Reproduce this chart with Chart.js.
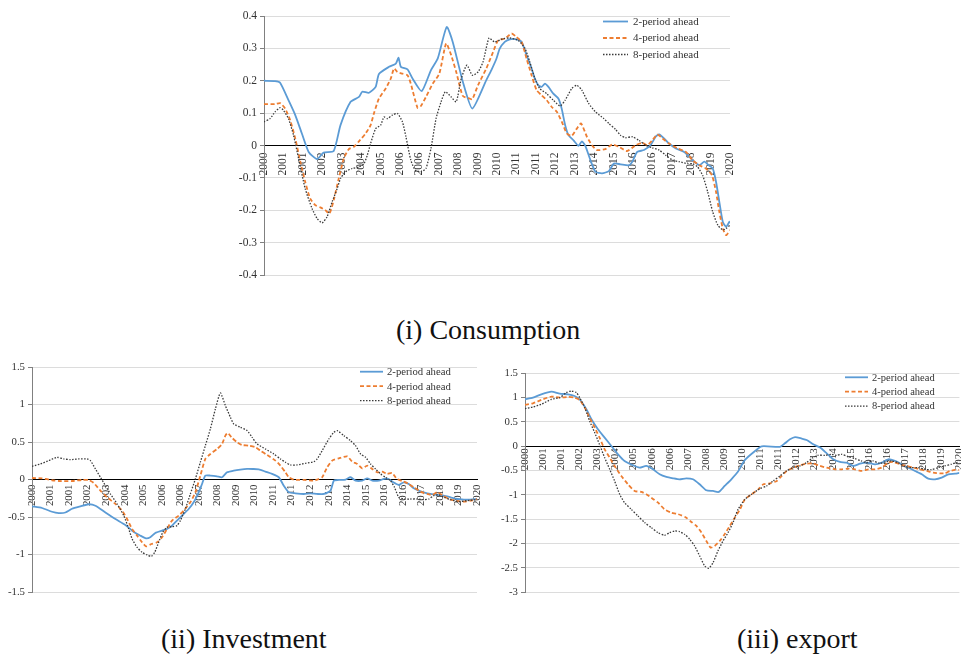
<!DOCTYPE html>
<html>
<head>
<meta charset="utf-8">
<title>Forecast paths: consumption, investment, export</title>
<script src="https://cdn.jsdelivr.net/npm/chart.js@4.4.1/dist/chart.umd.min.js"></script>
<style>
  html, body { margin: 0; padding: 0; background: #fff; }
  #page { position: relative; width: 961px; height: 656px; overflow: hidden; background: #fff; }
  #page canvas { position: absolute; }
  .title {
    position: absolute; white-space: nowrap; color: #111;
    font-family: "Liberation Serif", "DejaVu Serif", "Times New Roman", serif;
    font-size: 28px; line-height: 28px;
  }
</style>
</head>
<body>
<div id="page">
  <canvas id="cCons" width="520" height="300" style="left:220px;top:0px"></canvas>
  <canvas id="cInv" width="490" height="245" style="left:0px;top:355px"></canvas>
  <canvas id="cExp" width="481" height="245" style="left:480px;top:355px"></canvas>
  <div class="title" style="left:396px;top:316px">(i) Consumption</div>
  <div class="title" style="left:161px;top:625px">(ii) Investment</div>
  <div class="title" style="left:737px;top:625px">(iii) export</div>
</div>
<script>
// Category labels along the time axis (index 0..24)
const yearLabels = ['2000','2001','2001','2002','2003','2004','2005','2006','2006','2007','2008','2009',
  '2010','2011','2011','2012','2013','2014','2015','2016','2016','2017','2018','2019','2020'];

const seriesNames = ['2-period ahead', '4-period ahead', '8-period ahead'];

// Each series: [time index, value]
const consumption2 = [[0,0.200],[0.57,0.199],[0.83,0.194],[1.26,0.140],[1.61,0.094],[1.95,0.037],[2.30,-0.020],[2.73,-0.042],[3.07,-0.022],[3.59,-0.017],[3.94,0.063],[4.46,0.135],[4.89,0.150],[5.06,0.166],[5.41,0.163],[5.75,0.181],[5.92,0.221],[6.44,0.243],[6.79,0.253],[6.93,0.271],[7.05,0.243],[7.39,0.235],[7.65,0.207],[8.12,0.168],[8.60,0.233],[8.95,0.269],[9.41,0.366],[9.72,0.320],[10.24,0.197],[10.73,0.114],[11.45,0.202],[11.71,0.233],[11.97,0.268],[12.14,0.299],[12.40,0.320],[12.66,0.328],[13.0,0.328],[13.27,0.320],[13.52,0.279],[13.78,0.238],[13.95,0.207],[14.13,0.186],[14.3,0.181],[14.47,0.191],[14.65,0.181],[14.9,0.160],[15.16,0.145],[15.33,0.114],[15.51,0.063],[15.68,0.032],[15.94,0.016],[16.2,-0.001],[16.37,0.013],[16.55,-0.001],[16.81,-0.045],[17.07,-0.081],[17.41,-0.086],[17.76,-0.079],[18.02,-0.056],[18.36,-0.058],[18.79,-0.061],[18.97,-0.050],[19.22,-0.020],[19.57,-0.014],[19.91,0.001],[20.17,0.027],[20.35,0.034],[20.6,0.022],[20.86,0.006],[21.21,-0.009],[21.64,-0.020],[22.07,-0.045],[22.42,-0.061],[22.68,-0.050],[22.9,-0.061],[23.11,-0.071],[23.28,-0.112],[23.45,-0.174],[23.63,-0.236],[23.8,-0.251],[23.97,-0.236],[24,-0.235]];
const consumption4 = [[0,0.128],[0.57,0.128],[0.83,0.131],[1.09,0.114],[1.35,0.078],[1.61,0.022],[1.87,-0.050],[2.12,-0.112],[2.38,-0.164],[2.64,-0.184],[2.9,-0.191],[3.16,-0.200],[3.37,-0.210],[3.59,-0.169],[3.85,-0.102],[4.11,-0.040],[4.37,-0.011],[4.63,-0.004],[4.89,0.013],[5.23,0.037],[5.49,0.063],[5.66,0.099],[5.92,0.145],[6.27,0.176],[6.53,0.207],[6.70,0.238],[6.87,0.227],[7.13,0.222],[7.39,0.217],[7.56,0.191],[7.91,0.116],[8.08,0.122],[8.34,0.150],[8.69,0.191],[9.03,0.222],[9.38,0.315],[9.64,0.279],[9.9,0.227],[10.24,0.153],[10.59,0.145],[10.73,0.143],[11.02,0.186],[11.45,0.238],[11.8,0.289],[12.06,0.325],[12.4,0.330],[12.75,0.346],[13.0,0.335],[13.27,0.320],[13.52,0.269],[13.78,0.217],[14.04,0.171],[14.3,0.155],[14.56,0.140],[14.82,0.119],[15.08,0.104],[15.34,0.073],[15.6,0.037],[15.85,0.030],[16.11,0.052],[16.33,0.068],[16.63,0.027],[16.89,0.001],[17.15,-0.014],[17.58,-0.011],[17.93,0.003],[18.27,-0.004],[18.7,-0.017],[19.14,0.001],[19.48,0.008],[19.74,0.001],[20.0,0.016],[20.26,0.034],[20.52,0.022],[20.86,0.006],[21.3,-0.009],[21.73,-0.020],[22.07,-0.045],[22.42,-0.061],[22.76,-0.071],[23.07,-0.092],[23.28,-0.143],[23.45,-0.205],[23.63,-0.256],[23.8,-0.277],[24,-0.261]];
const consumption8 = [[0,0.073],[0.31,0.083],[0.57,0.104],[0.83,0.117],[1.0,0.109],[1.26,0.083],[1.52,0.032],[1.78,-0.040],[2.12,-0.133],[2.47,-0.194],[2.73,-0.225],[2.99,-0.239],[3.25,-0.220],[3.51,-0.174],[3.77,-0.133],[3.94,-0.102],[4.2,-0.081],[4.54,-0.071],[4.89,-0.066],[5.15,-0.056],[5.32,-0.030],[5.49,0.006],[5.75,0.052],[6.01,0.063],[6.18,0.088],[6.36,0.083],[6.61,0.094],[6.87,0.099],[7.13,0.073],[7.31,0.027],[7.56,-0.045],[7.79,-0.076],[8.08,-0.081],[8.34,-0.071],[8.6,-0.009],[8.86,0.083],[9.12,0.135],[9.34,0.166],[9.64,0.150],[9.9,0.135],[10.16,0.207],[10.45,0.248],[10.73,0.217],[11.02,0.227],[11.28,0.258],[11.59,0.332],[11.88,0.320],[12.31,0.330],[12.66,0.332],[13.09,0.325],[13.44,0.300],[13.69,0.258],[13.95,0.207],[14.2,0.176],[14.56,0.160],[14.9,0.140],[15.25,0.122],[15.51,0.140],[15.85,0.176],[16.11,0.186],[16.37,0.171],[16.72,0.130],[17.07,0.104],[17.5,0.083],[17.76,0.068],[18.1,0.050],[18.36,0.032],[18.62,0.024],[18.97,0.027],[19.31,0.016],[19.66,0.001],[20.0,-0.007],[20.35,-0.014],[20.69,-0.030],[21.04,-0.045],[21.38,-0.050],[21.81,-0.056],[22.07,-0.056],[22.33,-0.066],[22.59,-0.092],[22.85,-0.143],[23.11,-0.205],[23.37,-0.246],[23.63,-0.261],[23.8,-0.256],[24,-0.246]];

const investment2 = [[0,-0.358],[0.54,-0.380],[1.08,-0.430],[1.44,-0.447],[1.8,-0.440],[2.16,-0.390],[2.61,-0.358],[3.06,-0.330],[3.42,-0.350],[3.96,-0.440],[4.5,-0.527],[5.04,-0.607],[5.4,-0.682],[5.85,-0.749],[6.15,-0.785],[6.38,-0.770],[6.65,-0.713],[7.01,-0.682],[7.28,-0.660],[7.55,-0.615],[7.82,-0.548],[8.09,-0.482],[8.45,-0.393],[8.72,-0.304],[8.99,-0.171],[9.17,-0.060],[9.35,0.052],[9.62,0.052],[9.98,0.043],[10.25,0.030],[10.52,0.096],[10.88,0.118],[11.24,0.132],[11.6,0.141],[11.9,0.140],[12.23,0.136],[12.59,0.105],[12.95,0.074],[13.31,0.030],[13.58,-0.082],[13.85,-0.170],[14.21,-0.184],[14.66,-0.193],[15.02,-0.184],[15.38,-0.193],[15.74,-0.193],[16.1,-0.148],[16.28,-0.015],[16.55,-0.006],[16.91,-0.002],[17.18,0.030],[17.45,-0.015],[17.81,-0.015],[18.08,0.016],[18.35,-0.015],[18.71,-0.015],[18.98,0.007],[19.24,0.007],[19.48,-0.037],[19.78,-0.073],[20.05,-0.037],[20.32,-0.060],[20.59,-0.117],[20.86,-0.148],[21.13,-0.171],[21.49,-0.193],[21.85,-0.206],[22.21,-0.215],[22.57,-0.237],[22.93,-0.260],[23.29,-0.268],[23.65,-0.268],[24,-0.260]];
const investment4 = [[0,0.020],[0.54,0.016],[1.08,-0.010],[1.44,-0.020],[2.16,-0.020],[2.7,-0.006],[3.06,-0.006],[3.33,-0.046],[3.69,-0.148],[4.05,-0.237],[4.5,-0.326],[4.86,-0.415],[5.13,-0.527],[5.4,-0.660],[5.67,-0.749],[5.94,-0.838],[6.15,-0.891],[6.44,-0.860],[6.74,-0.838],[7.01,-0.771],[7.28,-0.660],[7.55,-0.548],[7.91,-0.482],[8.18,-0.415],[8.54,-0.304],[8.81,-0.171],[9.08,0.052],[9.35,0.274],[9.62,0.340],[9.98,0.407],[10.25,0.474],[10.43,0.585],[10.56,0.620],[10.76,0.563],[11.06,0.496],[11.33,0.460],[11.69,0.452],[12.05,0.430],[12.32,0.385],[12.68,0.327],[13.13,0.252],[13.4,0.185],[13.67,0.096],[13.85,0.030],[14.12,-0.002],[14.66,-0.006],[15.2,-0.015],[15.38,-0.002],[15.65,0.030],[15.92,0.163],[16.19,0.252],[16.55,0.283],[17.0,0.309],[17.27,0.238],[17.54,0.207],[17.81,0.149],[18.08,0.185],[18.35,0.140],[18.62,0.096],[18.88,0.105],[19.15,0.074],[19.42,0.087],[19.69,0.007],[20.05,-0.028],[20.32,-0.060],[20.59,-0.104],[20.95,-0.162],[21.31,-0.193],[21.58,-0.206],[21.85,-0.171],[22.12,-0.206],[22.48,-0.260],[22.84,-0.282],[23.29,-0.295],[23.65,-0.282],[24,-0.260]];
const investment8 = [[0,0.176],[0.45,0.207],[0.9,0.252],[1.35,0.296],[1.71,0.274],[2.07,0.265],[2.52,0.274],[2.97,0.274],[3.15,0.252],[3.42,0.141],[3.69,0.030],[3.96,-0.082],[4.23,-0.193],[4.59,-0.326],[4.95,-0.482],[5.22,-0.660],[5.4,-0.793],[5.67,-0.904],[5.94,-0.971],[6.21,-1.006],[6.44,-1.024],[6.62,-0.971],[6.83,-0.838],[7.05,-0.704],[7.28,-0.637],[7.55,-0.629],[7.82,-0.615],[8.0,-0.548],[8.27,-0.393],[8.54,-0.193],[8.81,0.007],[9.08,0.230],[9.35,0.452],[9.62,0.674],[9.89,0.940],[10.16,1.153],[10.43,0.985],[10.7,0.830],[10.88,0.741],[11.24,0.696],[11.6,0.652],[11.87,0.563],[12.14,0.474],[12.59,0.407],[13.04,0.340],[13.4,0.274],[13.67,0.230],[13.94,0.194],[14.3,0.194],[14.75,0.216],[15.2,0.238],[15.38,0.274],[15.65,0.385],[16.01,0.540],[16.28,0.629],[16.46,0.652],[16.82,0.585],[17.18,0.518],[17.45,0.452],[17.72,0.340],[17.99,0.296],[18.26,0.207],[18.53,0.140],[18.8,0.074],[19.06,0.030],[19.33,-0.015],[19.55,-0.104],[19.78,-0.238],[20.05,-0.260],[20.41,-0.260],[20.77,-0.260],[21.13,-0.268],[21.4,-0.260],[21.67,-0.215],[21.94,-0.206],[22.21,-0.237],[22.57,-0.268],[23.02,-0.295],[23.47,-0.282],[24,-0.268]];

const export2 = [[0,0.966],[0.44,1.0],[0.9,1.068],[1.46,1.123],[1.92,1.082],[2.38,1.068],[2.74,1.034],[3.02,0.966],[3.39,0.760],[3.67,0.555],[4.03,0.349],[4.4,0.178],[4.77,0.007],[5.14,-0.164],[5.5,-0.301],[5.97,-0.390],[6.33,-0.438],[6.7,-0.404],[7.07,-0.473],[7.44,-0.575],[7.81,-0.630],[8.18,-0.658],[8.54,-0.678],[8.91,-0.658],[9.28,-0.678],[9.65,-0.781],[10.02,-0.904],[10.39,-0.918],[10.7,-0.938],[11.03,-0.815],[11.4,-0.678],[11.77,-0.520],[12.15,-0.280],[12.71,-0.096],[13.08,0.0],[14.09,-0.010],[14.36,0.062],[14.64,0.144],[14.92,0.190],[15.29,0.158],[15.56,0.130],[15.93,0.041],[16.3,-0.027],[16.67,-0.144],[17.04,-0.267],[17.4,-0.322],[17.77,-0.336],[18.14,-0.404],[18.51,-0.356],[18.88,-0.336],[19.34,-0.370],[19.71,-0.336],[20.07,-0.267],[20.44,-0.301],[20.81,-0.370],[21.18,-0.438],[21.55,-0.507],[21.92,-0.575],[22.28,-0.664],[22.65,-0.678],[23.02,-0.644],[23.39,-0.575],[23.76,-0.562],[24,-0.545]];
const export4 = [[0,0.849],[0.44,0.884],[0.99,0.966],[1.46,1.021],[1.92,1.0],[2.38,1.014],[2.74,1.0],[3.02,0.952],[3.3,0.795],[3.57,0.589],[3.85,0.384],[4.12,0.178],[4.4,-0.062],[4.68,-0.233],[4.95,-0.404],[5.32,-0.610],[5.69,-0.781],[6.06,-0.918],[6.43,-0.938],[6.7,-0.986],[6.98,-1.055],[7.35,-1.158],[7.71,-1.295],[8.08,-1.363],[8.36,-1.384],[8.64,-1.418],[8.91,-1.466],[9.19,-1.555],[9.47,-1.637],[9.75,-1.774],[10.02,-1.945],[10.26,-2.082],[10.48,-2.048],[10.76,-1.945],[11.03,-1.808],[11.31,-1.637],[11.59,-1.466],[11.88,-1.295],[12.15,-1.089],[12.52,-0.986],[12.89,-0.884],[13.17,-0.781],[13.54,-0.760],[13.91,-0.712],[14.18,-0.610],[14.46,-0.507],[14.83,-0.438],[15.19,-0.390],[15.56,-0.356],[15.93,-0.356],[16.3,-0.404],[16.67,-0.438],[17.13,-0.473],[17.5,-0.473],[17.86,-0.459],[18.23,-0.473],[18.6,-0.507],[18.97,-0.473],[19.34,-0.473],[19.71,-0.438],[20.07,-0.336],[20.35,-0.322],[20.72,-0.370],[21.08,-0.404],[21.45,-0.438],[21.82,-0.473],[22.19,-0.507],[22.56,-0.541],[22.92,-0.555],[23.2,-0.555],[23.48,-0.507],[23.76,-0.486],[24,-0.486]];
const export8 = [[0,0.774],[0.44,0.808],[0.9,0.863],[1.46,0.966],[1.92,1.0],[2.28,1.103],[2.56,1.137],[2.84,1.103],[3.02,1.0],[3.3,0.795],[3.57,0.521],[3.85,0.281],[4.12,0.034],[4.4,-0.233],[4.68,-0.473],[4.95,-0.712],[5.23,-0.986],[5.5,-1.158],[5.87,-1.295],[6.24,-1.432],[6.61,-1.568],[6.98,-1.671],[7.35,-1.774],[7.71,-1.829],[7.99,-1.774],[8.27,-1.740],[8.54,-1.753],[8.82,-1.808],[9.1,-1.911],[9.37,-2.048],[9.65,-2.253],[9.93,-2.459],[10.15,-2.507],[10.39,-2.390],[10.66,-2.151],[10.94,-1.945],[11.22,-1.774],[11.49,-1.568],[11.77,-1.295],[12.15,-1.089],[12.52,-0.986],[12.98,-0.870],[13.35,-0.815],[13.71,-0.712],[14.08,-0.610],[14.44,-0.507],[14.81,-0.438],[15.18,-0.404],[15.55,-0.336],[15.91,-0.233],[16.19,-0.185],[16.57,-0.185],[16.93,-0.164],[17.2,-0.185],[17.48,-0.164],[17.85,-0.212],[18.22,-0.253],[18.58,-0.301],[18.86,-0.336],[19.23,-0.301],[19.59,-0.349],[19.96,-0.315],[20.24,-0.301],[20.61,-0.336],[20.98,-0.418],[21.34,-0.438],[21.71,-0.438],[22.08,-0.473],[22.45,-0.480],[22.82,-0.438],[23.18,-0.404],[23.55,-0.370],[23.83,-0.336],[24,-0.322]];

// Line styles for the three horizons
const lineStyles = [
  { borderColor: '#5b9bd5', borderWidth: 1.8, borderDash: [], order: 3 },
  { borderColor: '#ed7d31', borderWidth: 1.8, borderDash: [4, 2.5], order: 2 },
  { borderColor: '#3a3a3a', borderWidth: 1.3, borderDash: [1.5, 1.5], order: 1 }
];

const SERIF = '"Liberation Serif", "DejaVu Serif", "Times New Roman", serif';
const TEXT = '#333';

// In-plot key: a short line sample followed by the series name
const seriesKey = {
  id: 'seriesKey',
  afterDraw(chart, args, o) {
    const ctx = chart.ctx;
    ctx.save();
    ctx.font = o.size + 'px ' + SERIF;
    ctx.textBaseline = 'middle';
    ctx.textAlign = 'left';
    chart.data.datasets.forEach((ds, i) => {
      const y = o.y + i * o.gap;
      ctx.beginPath();
      ctx.setLineDash(ds.borderDash || []);
      ctx.strokeStyle = ds.borderColor;
      ctx.lineWidth = ds.borderWidth;
      ctx.moveTo(o.x, y);
      ctx.lineTo(o.x + o.len, y);
      ctx.stroke();
      ctx.setLineDash([]);
      ctx.fillStyle = TEXT;
      ctx.fillText(ds.label, o.x + o.len + o.space, y + 0.5);
    });
    ctx.restore();
  }
};

function buildPanel(id, series, yAxis, frame, key) {
  return new Chart(document.getElementById(id), {
    type: 'line',
    data: {
      datasets: series.map((pts, i) => Object.assign({
        label: seriesNames[i],
        data: pts,
        pointRadius: 0,
        fill: false,
        tension: 0.2
      }, lineStyles[i]))
    },
    options: {
      responsive: false,
      animation: false,
      events: [],
      layout: { padding: { left: 0, top: frame.top, right: frame.right, bottom: frame.bottom } },
      plugins: {
        legend: { display: false },
        tooltip: { enabled: false },
        seriesKey: key
      },
      scales: {
        x: {
          type: 'linear',
          min: 0,
          max: 24,
          position: { y: 0 },
          grid: { display: false, drawTicks: false },
          border: { display: true, color: '#000', width: 1 },
          ticks: {
            stepSize: 1,
            autoSkip: false,
            minRotation: 90,
            maxRotation: 90,
            padding: frame.xPad,
            color: TEXT,
            font: { family: SERIF, size: frame.xFont },
            callback: (v) => yearLabels[Math.round(v)]
          },
          afterFit: (s) => { s.paddingLeft = 0; s.paddingRight = 0; }
        },
        y: {
          min: yAxis.min,
          max: yAxis.max,
          grid: {
            color: (c) => (c.tick && Math.abs(c.tick.value) < 1e-9) ? 'rgba(0,0,0,0)' : '#dcdcdc',
            lineWidth: 1,
            tickColor: '#808080',
            tickLength: 4
          },
          border: { display: true, color: '#808080', width: 1 },
          ticks: {
            stepSize: yAxis.step,
            padding: 3,
            color: TEXT,
            font: { family: SERIF, size: frame.yFont },
            callback: (v) => String(Math.round(v * 10) / 10)
          },
          afterFit: (s) => { s.width = frame.left; s.paddingTop = 0; s.paddingBottom = 0; }
        }
      }
    },
    plugins: [seriesKey]
  });
}

buildPanel('cCons', [consumption2, consumption4, consumption8],
  { min: -0.4, max: 0.4, step: 0.1 },
  { left: 44, top: 16, right: 10, bottom: 25, xPad: 7, xFont: 11.5, yFont: 11.5 },
  { x: 383, y: 21.5, gap: 16.5, len: 25, space: 5, size: 11 });

buildPanel('cInv', [investment2, investment4, investment8],
  { min: -1.5, max: 1.5, step: 0.5 },
  { left: 32, top: 12, right: 13, bottom: 8, xPad: 5, xFont: 10.8, yFont: 10.8 },
  { x: 360, y: 16.7, gap: 14.5, len: 23, space: 4, size: 10.7 });

buildPanel('cExp', [export2, export4, export8],
  { min: -3, max: 1.5, step: 0.5 },
  { left: 45, top: 18.3, right: 1.6, bottom: 7.7, xPad: 2, xFont: 11, yFont: 10.8 },
  { x: 365, y: 22.3, gap: 14.4, len: 23, space: 4, size: 10.5 });
</script>
</body>
</html>
